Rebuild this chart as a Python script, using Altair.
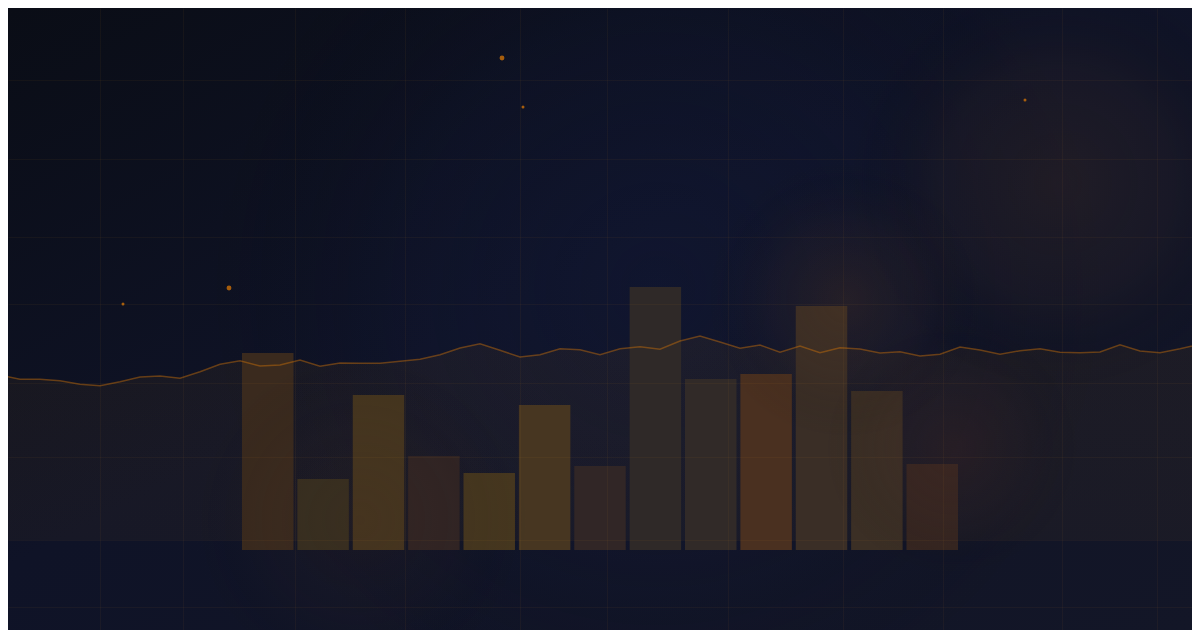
import altair as alt
import pandas as pd

# ---------------- data ----------------
bar_labels = ["01", "02", "03", "04", "05", "06", "07", "08", "09", "10", "11", "12", "13"]
bar_values = [78.8, 28.4, 62.0, 37.6, 30.8, 58.0, 33.6, 105.2, 68.4, 70.4, 97.6, 63.6, 34.4]
bar_colors = ["#3a2a1e", "#372f20", "#46361f", "#302424", "#46371f", "#473621", "#312626",
              "#2f2928", "#312a28", "#4a3020", "#3a2e26", "#3b2f25", "#362621"]

line_index = list(range(61))
line_values = [70.0, 68.3, 68.3, 67.7, 66.3, 65.7, 67.3, 69.2, 69.6, 68.7, 71.3, 74.3, 75.7, 73.6,
               74.0, 76.0, 73.5, 74.8, 74.7, 74.7, 75.5, 76.3, 78.1, 80.8, 82.5, 79.9, 77.2, 78.1,
               80.5, 80.1, 78.1, 80.5, 81.3, 80.3, 83.6, 85.6, 83.2, 80.7, 82.0, 79.1, 81.6, 78.9,
               80.9, 80.4, 78.8, 79.3, 77.6, 78.3, 81.2, 80.0, 78.3, 79.7, 80.5, 79.1, 78.9, 79.2,
               82.1, 79.6, 78.9, 80.5, 82.3]

dot_x = [25.1, 26.15, 11.45, 6.15, 51.25]
dot_y = [196.8, 177.2, 104.8, 98.4, 180.0]
dot_size = [24, 9, 24, 9, 9]

grid_x = [5, 9.15, 14.75, 20.25, 26, 30.35, 36.4, 42.15, 47.15, 53.1, 57.85]
grid_y = [188, 156.4, 125.2, 98.4, 66.8, 37.2, 4, -22.8]

bars = pd.DataFrame({"cat": bar_labels, "value": bar_values})
line = pd.DataFrame({"i": line_index, "v": line_values})
dots = pd.DataFrame({"x": dot_x, "y": dot_y, "s": dot_size})
one = pd.DataFrame({"k": [0]})

W, H = 1184, 622
xq = alt.Scale(domain=[0.4, 59.6], nice=False, zero=False)
yq = alt.Scale(domain=[-32.0, 216.8], nice=False, zero=False)


def radial(color_center, color_edge="rgba(0,0,0,0)", mid=None):
    stops = [alt.GradientStop(color=color_center, offset=0)]
    if mid:
        stops.append(alt.GradientStop(color=mid, offset=0.55))
    stops.append(alt.GradientStop(color=color_edge, offset=1))
    return alt.RadialGradient(gradient="radial", stops=stops,
                              x1=0.5, y1=0.5, x2=0.5, y2=0.5, r1=0, r2=0.5)


def box(cx, cy, r, grad, opacity=1.0):
    return alt.Chart(one).mark_rect(color=grad, opacity=opacity).encode(
        x=alt.value(cx - r), x2=alt.value(cx + r),
        y=alt.value(cy - r), y2=alt.value(cy + r))


bg = alt.Chart(one).mark_rect(
    color=alt.LinearGradient(
        gradient="linear", x1=0, y1=0, x2=1, y2=1,
        stops=[alt.GradientStop(color="#0a0d16", offset=0),
               alt.GradientStop(color="#0f1327", offset=0.45),
               alt.GradientStop(color="#131627", offset=1)])
).encode(x=alt.value(0), x2=alt.value(W), y=alt.value(0), y2=alt.value(H))

glow_blue = box(650, 280, 460, radial("rgba(18,26,62,0.32)", mid="rgba(18,26,60,0.15)"))
glow1 = box(1050, 175, 210, radial("rgba(70,48,35,0.30)", mid="rgba(60,42,35,0.18)"))
glow2 = box(838, 292, 140, radial("rgba(85,55,30,0.30)", mid="rgba(70,45,30,0.13)"))
glow3 = box(945, 440, 130, radial("rgba(75,40,35,0.26)", mid="rgba(60,35,35,0.11)"))
glow4 = box(352, 512, 170, radial("rgba(65,42,30,0.20)", mid="rgba(55,38,30,0.09)"))

grid_kw = dict(grid=True, labels=False, ticks=False, domain=False, title=None,
               gridColor="#f5a030", gridOpacity=0.05, zindex=1)

area = alt.Chart(line).mark_area(
    interpolate="linear",
    color=alt.LinearGradient(
        gradient="linear", x1=0, y1=0, x2=0, y2=1,
        stops=[alt.GradientStop(color="rgba(245,158,11,0.05)", offset=0),
               alt.GradientStop(color="rgba(245,158,11,0.035)", offset=1)]),
).encode(
    x=alt.X("i:Q", scale=xq, axis=alt.Axis(values=grid_x, **grid_kw)),
    y=alt.Y("v:Q", scale=yq, axis=alt.Axis(values=grid_y, **grid_kw)),
    y2=alt.datum(4),
)
stroke = alt.Chart(line).mark_line(color="#d97706", opacity=0.42, strokeWidth=1.5).encode(
    x=alt.X("i:Q", scale=xq, axis=None), y=alt.Y("v:Q", scale=yq))

bar_layer = alt.Chart(bars).mark_bar(opacity=1).encode(
    x=alt.X("cat:N", sort=bar_labels, axis=None,
            scale=alt.Scale(domain=bar_labels, range=[234, 950], paddingInner=0.07, paddingOuter=0)),
    y=alt.Y("value:Q", scale=yq),
    color=alt.Color("cat:N", scale=alt.Scale(domain=bar_labels, range=bar_colors), legend=None),
)

dot_layer = alt.Chart(dots).mark_circle(color="#d97706", opacity=0.75).encode(
    x=alt.X("x:Q", scale=xq, axis=None), y=alt.Y("y:Q", scale=yq),
    size=alt.Size("s:Q", scale=None, legend=None))

chart = alt.layer(
    bg, glow_blue, area, bar_layer, glow1, glow2, glow3, glow4, stroke, dot_layer
).resolve_scale(x="independent").properties(
    width=W, height=H, padding=0, autosize=alt.AutoSizeParams(type="none"),
    background="#0e1222"
).configure_view(stroke=None)

chart.save("out.html", embed_options={"renderer": "svg", "actions": False})
